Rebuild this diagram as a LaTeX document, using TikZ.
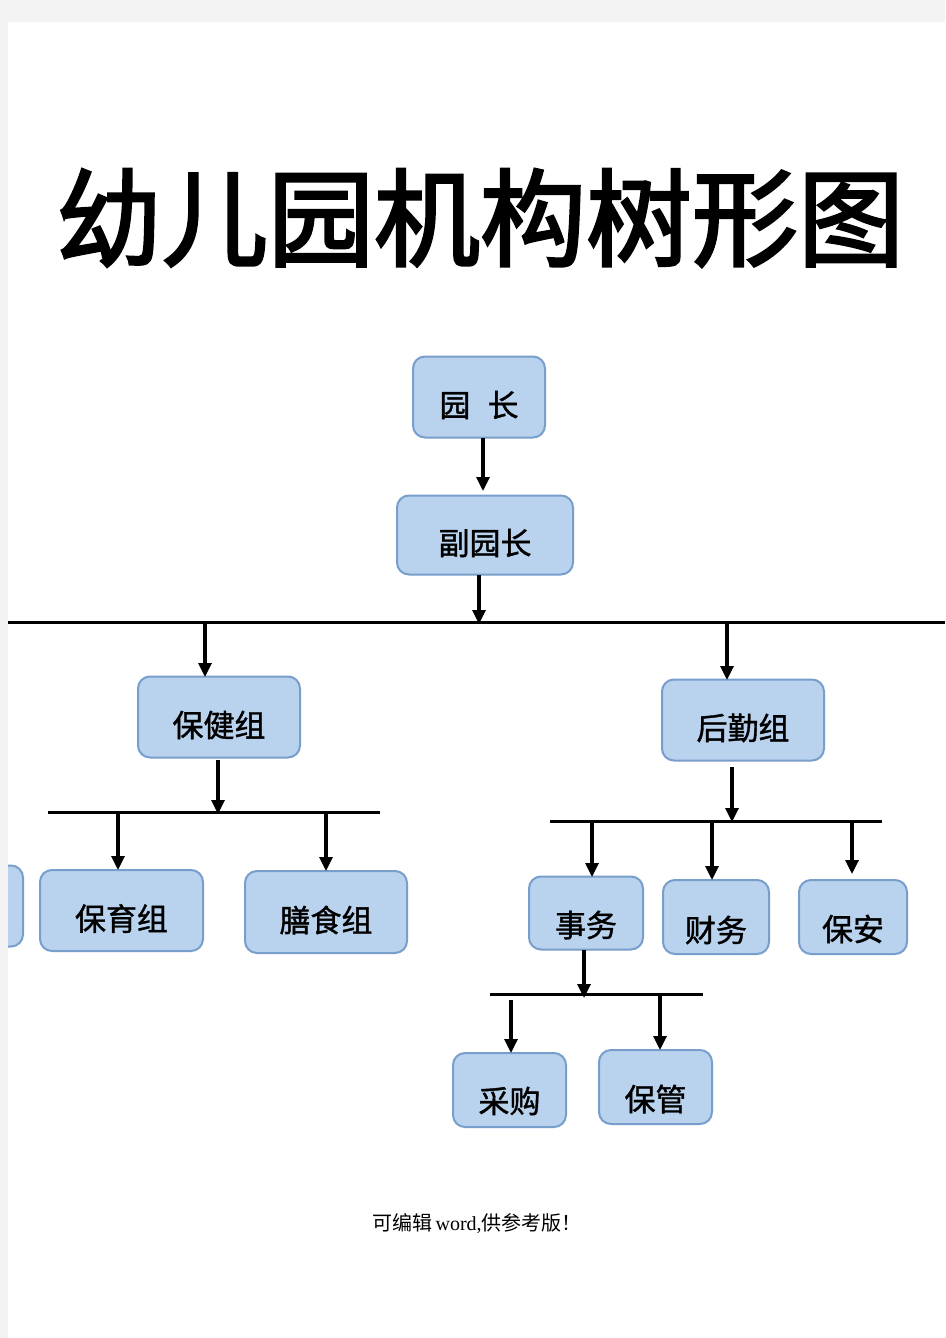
\documentclass[tikz,border=0pt]{standalone}
\usepackage{fontspec}
\newfontfamily\cjk{Noto Sans CJK SC}
\newfontfamily\cjkm[FakeBold=1.2]{Noto Sans CJK SC}
\newfontfamily\cjkt[FakeBold=2.5]{Noto Sans CJK SC}
\newfontfamily\serifl{Liberation Serif}
\usetikzlibrary{arrows.meta}
\definecolor{boxfill}{RGB}{185,211,238}
\definecolor{boxline}{RGB}{120,158,203}
\definecolor{pagebg}{RGB}{243,243,243}
\tikzset{
  box/.style={draw=boxline, fill=boxfill, line width=2pt, rounded corners=12pt, inner sep=0pt},
  boxtext/.style={font=\cjkm\fontsize{31}{34}\selectfont},
  arr/.style={line width=3.2pt, -{Triangle[length=14pt,width=13pt]}},
  bus/.style={line width=3pt},
}
\begin{document}
\begin{tikzpicture}[x=1pt,y=-1pt]
\useasboundingbox (0,0) rectangle (945,1338);
\fill[pagebg] (0,0) rectangle (945,1338);
\fill[white] (8,22) rectangle (945,1338);
% title
\node (title) at (480,218) {\cjkt\fontsize{106}{110}\selectfont 幼儿园机构树形图};
% level 1
\node[box, minimum width=132pt, minimum height=81pt,
  label={[boxtext, yshift=-8pt]center:园\hspace{0.55em}长}] (yz) at (479,397) {};
\node[box, minimum width=176pt, minimum height=79pt,
  label={[boxtext, yshift=-8pt]center:副园长}] (fyz) at (485,535) {};
\coordinate (yzb) at (483,438);
\coordinate (fyzt) at (483,491);
\draw[arr] (yzb) -- (fyzt);
% main bus
\coordinate (busL) at (8,622);
\coordinate (busR) at (945,622);
\draw[bus] (busL) -- (busR);
\coordinate (b0s) at (479,575);
\coordinate (b0) at (479,624);
\draw[arr] (b0s) -- (b0);
% level 2
\node[box, minimum width=162pt, minimum height=81pt,
  label={[boxtext, yshift=-8pt]center:保健组}] (bjz) at (219,717) {};
\node[box, minimum width=162pt, minimum height=81pt,
  label={[boxtext, yshift=-8pt]center:后勤组}] (hqz) at (743,720) {};
\draw[arr] (205,622) -- (205,677);
\draw[arr] (727,622) -- (727,680);
% bus 2
\coordinate (c1L) at (48,812);
\coordinate (c1R) at (380,812);
\draw[bus] (c1L) -- (c1R);
\draw[arr] (218,760) -- (218,814);
% level 3 left
\begin{scope}
\clip (8,22) rectangle (945,1338);
\node[box, minimum width=162pt, minimum height=81pt] (hidden) at (-58,906) {};
\end{scope}
\node[box, minimum width=163pt, minimum height=81pt,
  label={[boxtext, yshift=-8pt]center:保育组}] (byz) at (121.5,910.5) {};
\node[box, minimum width=162pt, minimum height=82pt,
  label={[boxtext, yshift=-8pt]center:膳食组}] (ssz) at (326,912) {};
\draw[arr] (118,813) -- (118,870);
\draw[arr] (326,813) -- (326,871);
% bus 3
\coordinate (c2L) at (550,821);
\coordinate (c2R) at (882,821);
\draw[bus] (c2L) -- (c2R);
\draw[arr] (732,767) -- (732,822);
% level 3 right
\node[box, minimum width=114pt, minimum height=73pt,
  label={[boxtext, yshift=-12pt]center:事务}] (sw) at (586,913) {};
\node[box, minimum width=106pt, minimum height=74pt,
  label={[boxtext, yshift=-13pt]center:财务}] (cw) at (716,917) {};
\node[box, minimum width=108pt, minimum height=74pt,
  label={[boxtext, yshift=-12pt]center:保安}] (ba) at (853,917) {};
\draw[arr] (592,821) -- (592,877);
\draw[arr] (712,821) -- (712,880);
\draw[arr] (852,821) -- (852,874);
% bus 4
\coordinate (c3L) at (490,994);
\coordinate (c3R) at (703,994);
\draw[bus] (c3L) -- (c3R);
\draw[arr] (584,950) -- (584,998);
% level 4
\node[box, minimum width=113pt, minimum height=74pt,
  label={[boxtext, yshift=-11pt]center:采购}] (cg) at (509.5,1090) {};
\node[box, minimum width=113pt, minimum height=74pt,
  label={[boxtext, yshift=-12pt]center:保管}] (bg) at (655.5,1087) {};
\draw[arr] (511,1000) -- (511,1053);
\draw[arr] (660,994) -- (660,1050);
% footer
\node (foot) at (477,1224) {\fontsize{20}{22}\selectfont\cjk 可编辑\,\serifl word,\cjk 供参考版！};
\end{tikzpicture}
\end{document}
